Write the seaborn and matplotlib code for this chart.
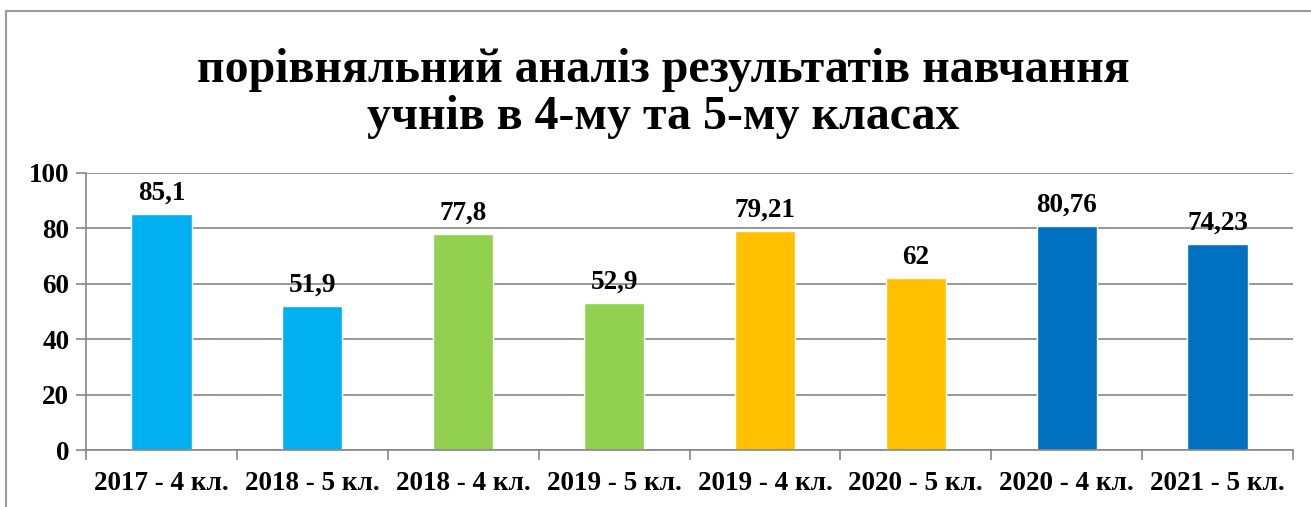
import matplotlib
matplotlib.use("Agg")
import matplotlib.pyplot as plt
import seaborn as sns
import pandas as pd
from matplotlib.lines import Line2D

categories = ["2017 - 4 кл.", "2018 - 5 кл.", "2018 - 4 кл.", "2019 - 5 кл.",
              "2019 - 4 кл.", "2020 - 5 кл.", "2020 - 4 кл.", "2021 - 5 кл."]
values = [85.1, 51.9, 77.8, 52.9, 79.21, 62, 80.76, 74.23]
bar_colors = ["#00B0F0", "#00B0F0", "#92D050", "#92D050",
              "#FFC000", "#FFC000", "#0070C0", "#0070C0"]
yticks = [0, 20, 40, 60, 80, 100]
title = "порівняльний аналіз результатів навчання\nучнів в 4-му та 5-му класах"

sns.set_style("white")
plt.rcParams['font.family'] = ['Liberation Serif', 'DejaVu Serif']
plt.rcParams['text.color'] = 'black'
plt.rcParams['xtick.color'] = 'black'
plt.rcParams['ytick.color'] = 'black'

df = pd.DataFrame({"cat": categories, "val": values})

fig = plt.figure(figsize=(13.11, 5.07), dpi=100)
ax = fig.add_axes([0.0656, 0.1124, 0.9207, 0.5464])

sns.barplot(data=df, x="cat", y="val", hue="cat", palette=bar_colors,
            legend=False, width=0.40, saturation=1, ax=ax)

# data labels
for i, v in enumerate(values):
    ax.annotate(f"{v:g}".replace('.', ','), (i, v), xytext=(0, 6),
                textcoords="offset points", ha="center", va="bottom",
                fontsize=19.5, fontweight="bold")

ax.set_ylim(0, 100)
ax.set_xlim(-0.5, len(categories) - 0.5)
ax.set_yticks(yticks)
ax.yaxis.grid(True, color="#868686", linewidth=1.2)
ax.set_axisbelow(True)
ax.set_xlabel("")
ax.set_ylabel("")

# tick marks between categories, labels centered
ax.set_xticks(range(len(categories)))
ax.set_xticklabels(categories)
ax.set_xticks([i - 0.5 for i in range(len(categories) + 1)], minor=True)
ax.tick_params(axis="x", which="major", length=0, pad=15, labelsize=19.5)
ax.tick_params(axis="x", which="minor", length=7, color="#868686", width=1.2, direction="out")
ax.tick_params(axis="y", length=7, color="#868686", width=1.2, direction="out", labelsize=19.5, pad=5)
ax.tick_params(bottom=True, left=True, which="both")
for lab in ax.get_xticklabels() + ax.get_yticklabels():
    lab.set_fontweight("bold")

for side in ["top", "right"]:
    ax.spines[side].set_visible(False)
for side in ["left", "bottom"]:
    ax.spines[side].set_color("#868686")
    ax.spines[side].set_linewidth(1.2)

fig.text(0.506, 0.815, title, ha="center", va="center", fontsize=34.5,
         fontweight="bold", linespacing=1.1)

# outer chart frame (left and top edges visible)
fx, fy = 5.5 / 1311, 1 - 10.5 / 507
fig.lines.append(Line2D([fx, fx], [0, fy], transform=fig.transFigure,
                        color="#9a9a9a", linewidth=1.5))
fig.lines.append(Line2D([fx, 1], [fy, fy], transform=fig.transFigure,
                        color="#9a9a9a", linewidth=1.5))

fig.savefig("out.png", dpi=100)
